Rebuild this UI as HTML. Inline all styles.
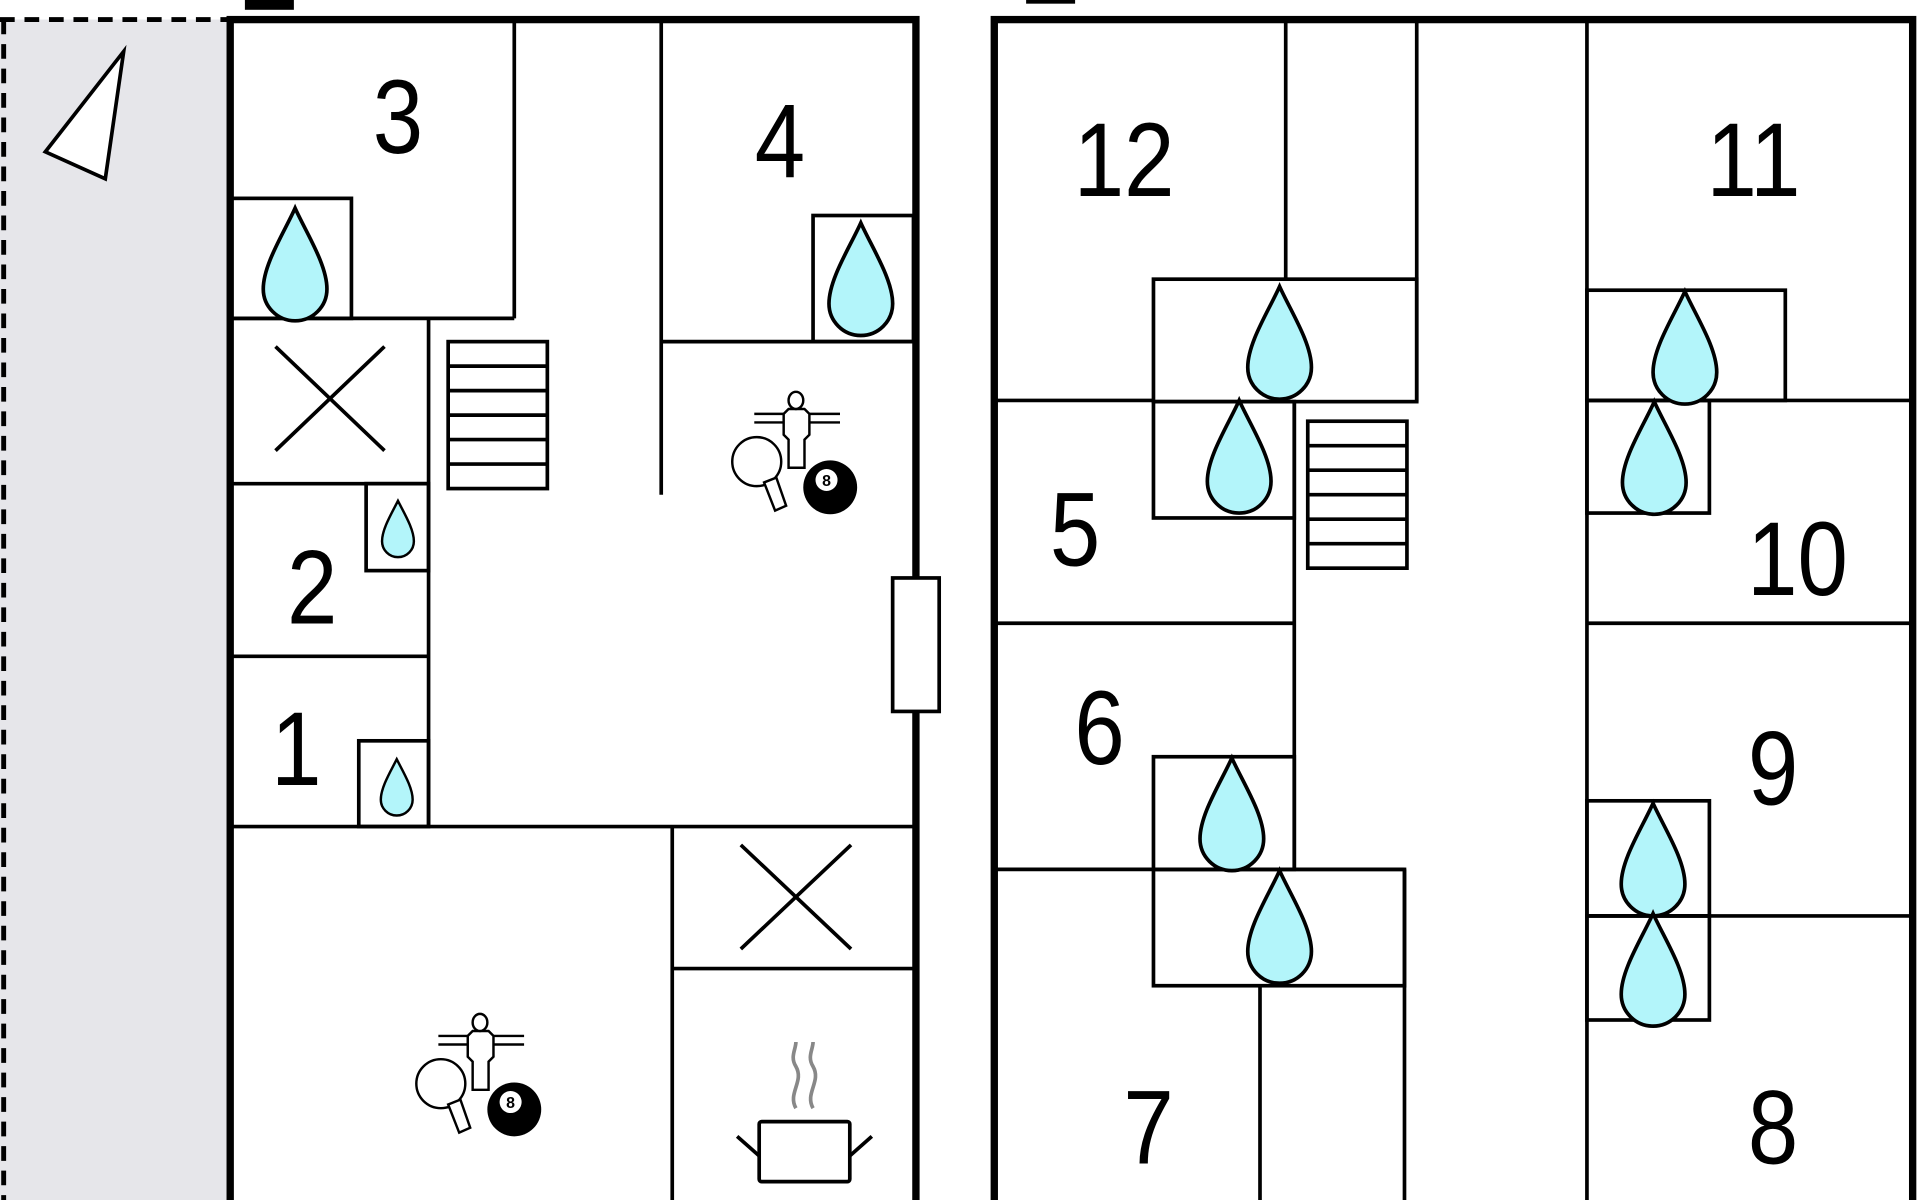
<!DOCTYPE html>
<html><head><meta charset="utf-8"><style>
html,body{margin:0;padding:0;background:#fff;}
svg{display:block;}
text{font-family:"Liberation Sans",Arial,sans-serif;font-size:86px;fill:#000;text-anchor:middle;}
text.n{transform-box:fill-box;transform-origin:center;transform:scaleX(0.86);}
</style></head><body>
<svg width="1920" height="1200" viewBox="0 0 1568 980" preserveAspectRatio="none" xmlns="http://www.w3.org/2000/svg">
<defs>
<path id="dropL" d="M0,-46 C9,-26 26,0 26,20 A26,26 0 0 1 -26,20 C-26,0 -9,-26 0,-46Z" fill="#b3f5fa" stroke="#000" stroke-width="3"/>
<path id="dropS" d="M0,-23 C5,-13 13,0 13,10 A13,13 0 0 1 -13,10 C-13,0 -5,-13 0,-23Z" fill="#b3f5fa" stroke="#000" stroke-width="2"/>
<g id="game">
 <line x1="616" y1="338" x2="686" y2="338" stroke="#000" stroke-width="2"/>
 <line x1="616" y1="345" x2="686" y2="345" stroke="#000" stroke-width="2"/>
 <path d="M644,334 h13 l4,4 v17 l-4,4 v23 h-13 v-23 l-4,-4 v-17 z" fill="#fff" stroke="#000" stroke-width="2"/>
 <ellipse cx="650" cy="327" rx="6" ry="7" fill="#fff" stroke="#000" stroke-width="2"/>
 <circle cx="618" cy="377" r="20" fill="#fff" stroke="#000" stroke-width="2"/>
 <path d="M624,394 l10,-4 l8,23 l-9,4 z" fill="#fff" stroke="#000" stroke-width="2"/>
 <circle cx="678" cy="398" r="22" fill="#000"/>
 <circle cx="675" cy="392" r="9" fill="#fff"/>
 <text x="675" y="397" style="font-size:13px;font-weight:bold">8</text>
</g>
</defs>
<rect x="0" y="16" width="186" height="964" fill="#e6e6ea"/>
<line x1="3" y1="16" x2="3" y2="980" stroke="#000" stroke-width="4" stroke-dasharray="12,8"/>
<line x1="0" y1="16" x2="186" y2="16" stroke="#000" stroke-width="4" stroke-dasharray="12,8"/>
<polygon points="101,42 86,146 37,124" fill="#fff" stroke="#000" stroke-width="3"/>
<rect x="200" y="0" width="40" height="8" fill="#000"/>
<rect x="838" y="0" width="40" height="3" fill="#000"/>
<g stroke="#000" stroke-width="3" fill="none">
 <line x1="420" y1="16" x2="420" y2="260"/>
 <line x1="188" y1="260" x2="420" y2="260"/>
 <rect x="188" y="162" width="99" height="98"/>
 <line x1="540" y1="16" x2="540" y2="404"/>
 <line x1="540" y1="279" x2="748" y2="279"/>
 <rect x="664" y="176" width="82" height="103"/>
 <line x1="350" y1="260" x2="350" y2="675"/>
 <line x1="188" y1="395" x2="350" y2="395"/>
 <line x1="225" y1="283" x2="314" y2="368"/>
 <line x1="314" y1="283" x2="225" y2="368"/>
 <rect x="299" y="395" width="51" height="71"/>
 <line x1="188" y1="536" x2="350" y2="536"/>
 <rect x="293" y="605" width="57" height="70"/>
 <line x1="188" y1="675" x2="748" y2="675"/>
 <rect x="366" y="279" width="81" height="120"/>
 <line x1="366" y1="299" x2="447" y2="299"/><line x1="366" y1="319" x2="447" y2="319"/>
 <line x1="366" y1="339" x2="447" y2="339"/><line x1="366" y1="359" x2="447" y2="359"/>
 <line x1="366" y1="379" x2="447" y2="379"/>
 <line x1="549" y1="675" x2="549" y2="980"/>
 <line x1="549" y1="791" x2="748" y2="791"/>
 <line x1="605" y1="690" x2="695" y2="775"/>
 <line x1="695" y1="690" x2="605" y2="775"/>
</g>
<rect x="188" y="16" width="560" height="980" fill="none" stroke="#000" stroke-width="6"/>
<rect x="729" y="472" width="38" height="109" fill="#fff" stroke="#000" stroke-width="3"/>
<g stroke="#000" stroke-width="3" fill="#fff">
 <path d="M650,905 c-7,-12 7,-22 0,-34 c-5,-8 0,-14 0,-20 M664,905 c-7,-12 7,-22 0,-34 c-5,-8 0,-14 0,-20" stroke="#888" fill="none"/>
 <rect x="620" y="916" width="74" height="49" rx="2"/>
 <line x1="602" y1="928" x2="620" y2="944"/>
 <line x1="712" y1="928" x2="694" y2="944"/>
</g>
<use href="#game"/>
<use href="#game" transform="translate(-258,508)"/>
<g stroke="#000" stroke-width="3" fill="none">
 <line x1="1050" y1="16" x2="1050" y2="228"/>
 <line x1="1157" y1="16" x2="1157" y2="328"/>
 <rect x="942" y="228" width="215" height="100"/>
 <line x1="812" y1="327" x2="942" y2="327"/>
 <rect x="942" y="328" width="115" height="95"/>
 <line x1="1057" y1="328" x2="1057" y2="710"/>
 <rect x="1068" y="344" width="81" height="120"/>
 <line x1="1068" y1="364" x2="1149" y2="364"/><line x1="1068" y1="384" x2="1149" y2="384"/>
 <line x1="1068" y1="404" x2="1149" y2="404"/><line x1="1068" y1="424" x2="1149" y2="424"/>
 <line x1="1068" y1="444" x2="1149" y2="444"/>
 <line x1="812" y1="509" x2="1057" y2="509"/>
 <rect x="942" y="618" width="115" height="92"/>
 <line x1="812" y1="710" x2="1147" y2="710"/>
 <rect x="942" y="710" width="205" height="95"/>
 <line x1="1147" y1="710" x2="1147" y2="980"/>
 <line x1="1029" y1="805" x2="1029" y2="980"/>
 <line x1="1296" y1="16" x2="1296" y2="980"/>
 <rect x="1296" y="237" width="162" height="90"/>
 <line x1="1296" y1="327" x2="1562" y2="327"/>
 <rect x="1296" y="327" width="100" height="92"/>
 <line x1="1296" y1="509" x2="1562" y2="509"/>
 <rect x="1296" y="654" width="100" height="94"/>
 <line x1="1296" y1="748" x2="1562" y2="748"/>
 <rect x="1296" y="748" width="100" height="85"/>
</g>
<rect x="812" y="16" width="750" height="980" fill="none" stroke="#000" stroke-width="6"/>
<use href="#dropL" x="241" y="216"/>
<use href="#dropL" x="703" y="228"/>
<use href="#dropS" x="325" y="432"/>
<use href="#dropS" x="324" y="643"/>
<use href="#dropL" x="1045" y="280"/>
<use href="#dropL" x="1012" y="373"/>
<use href="#dropL" x="1376" y="284"/>
<use href="#dropL" x="1351" y="374"/>
<use href="#dropL" x="1006" y="665"/>
<use href="#dropL" x="1045" y="757"/>
<use href="#dropL" x="1350" y="702"/>
<use href="#dropL" x="1350" y="792"/>
<text class="n" x="325" y="125">3</text>
<text class="n" x="637" y="145">4</text>
<text class="n" x="255" y="509">2</text>
<text class="n" x="242" y="641">1</text>
<text class="n" x="918" y="160">12</text>
<text class="n" x="1432" y="160">11</text>
<text class="n" x="878" y="462">5</text>
<text class="n" x="1468" y="486">10</text>
<text class="n" x="898" y="624">6</text>
<text class="n" x="1448" y="657">9</text>
<text class="n" x="938" y="950">7</text>
<text class="n" x="1448" y="950">8</text>
</svg>
</body></html>
